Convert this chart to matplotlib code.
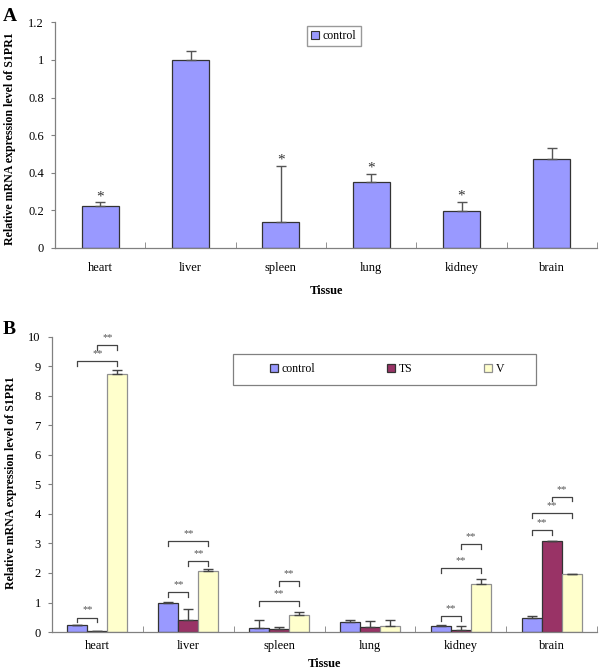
import numpy as np
import matplotlib
matplotlib.use("Agg")
import matplotlib.pyplot as plt
from matplotlib.ticker import FuncFormatter, FixedLocator
from matplotlib.patches import Patch, Rectangle

plt.rcParams['font.family'] = ['Liberation Serif', 'DejaVu Serif']

tissues = ['heart', 'liver', 'spleen', 'lung', 'kidney', 'brain']

# panel A
a_control = [0.224, 1.0, 0.14, 0.353, 0.195, 0.472]
a_err = [0.019, 0.048, 0.297, 0.041, 0.05, 0.059]
a_star = [True, False, True, True, True, False]

# panel B
b_control = [0.23, 1.0, 0.13, 0.33, 0.20, 0.46]
b_control_err = [0.01, 0.02, 0.29, 0.07, 0.03, 0.08]
b_ts = [0.03, 0.39, 0.09, 0.18, 0.06, 3.09]
b_ts_err = [0.0, 0.39, 0.07, 0.18, 0.15, 0.0]
b_v = [8.74, 2.08, 0.59, 0.19, 1.64, 1.96]
b_v_err = [0.13, 0.07, 0.08, 0.21, 0.17, 0.02]

# significance brackets: (tissue, bar i, bar j, height)
brackets = [
    (0, 0, 1, 0.49), (0, 0, 2, 9.18), (0, 1, 2, 9.72),
    (1, 0, 1, 1.34), (1, 1, 2, 2.41), (1, 0, 2, 3.07),
    (2, 0, 2, 1.05), (2, 1, 2, 1.72),
    (4, 0, 1, 0.53), (4, 0, 2, 2.17), (4, 1, 2, 2.97),
    (5, 0, 1, 3.45), (5, 0, 2, 4.02), (5, 1, 2, 4.59),
]

colors = ['#9999FF', '#993366', '#FFFFCC']
edges = ['#333333', '#333333', '#909090']
series = ['control', 'TS', 'V']
axis_grey = '#808080'
ylab = 'Relative mRNA expression level of S1PR1'

fig = plt.figure(figsize=(6.0, 6.69), dpi=100)
axA = fig.add_axes([0.0917, 0.6293, 0.9033, 0.3374])
axB = fig.add_axes([0.0867, 0.0553, 0.9083, 0.4410])


def style_axis(ax, n, xpad, lpad):
    for s in ['top', 'right']:
        ax.spines[s].set_visible(False)
    for s in ['left', 'bottom']:
        ax.spines[s].set_color(axis_grey)
        ax.spines[s].set_linewidth(0.9)
    ax.set_xlim(0, n)
    ax.set_xticks(np.arange(n) + 0.5)
    ax.set_xticklabels(tissues, fontsize=9)
    ax.tick_params(axis='x', which='major', length=0, pad=xpad)
    ax.xaxis.set_minor_locator(FixedLocator(np.arange(1, n + 1)))
    ax.tick_params(axis='x', which='minor', direction='in', length=4, color=axis_grey)
    ax.tick_params(axis='y', direction='out', length=3, color=axis_grey, labelsize=9, pad=5)
    ax.set_xlabel('Tissue', fontsize=9, fontweight='bold', labelpad=lpad)


x = np.arange(len(tissues)) + 0.5

# ---- panel A
bw = 0.41
axA.bar(x, a_control, bw, color=colors[0], edgecolor=edges[0], linewidth=0.9,
        yerr=[np.zeros(len(a_err)), a_err], capsize=3.5,
        error_kw=dict(ecolor='#555555', elinewidth=1.0, capthick=1.0), zorder=2)
for xi, v, e, s in zip(x, a_control, a_err, a_star):
    if s:
        axA.text(xi, v + e - 0.005, '*', ha='center', va='bottom', fontsize=11, color='#333333')
axA.set_ylim(0, 1.2)
axA.set_yticks(np.arange(0, 1.21, 0.2))
axA.yaxis.set_major_formatter(FuncFormatter(lambda v, p: '%g' % round(v, 1)))
style_axis(axA, len(tissues), 10, 8)
axA.legend(handles=[Patch(facecolor=colors[0], edgecolor=edges[0], linewidth=0.8, label='control')],
           loc='upper left', bbox_to_anchor=(0.465, 0.985), fontsize=8.5, frameon=True,
           fancybox=False, edgecolor=axis_grey, handlelength=0.7, handleheight=0.7,
           handletextpad=0.3, borderpad=0.35, borderaxespad=0)

# ---- panel B
bw = 0.22
vals = [b_control, b_ts, b_v]
errs = [b_control_err, b_ts_err, b_v_err]
for k in range(3):
    axB.bar(x + (k - 1) * bw, vals[k], bw, color=colors[k], edgecolor=edges[k], linewidth=0.9,
            yerr=[np.zeros(len(errs[k])), errs[k]], capsize=3.5,
            error_kw=dict(ecolor='#444444', elinewidth=1.0, capthick=1.0), zorder=2,
            label=series[k])

drop = 0.16
for t, i, j, h in brackets:
    x0 = x[t] + (i - 1) * bw
    x1 = x[t] + (j - 1) * bw
    axB.plot([x0, x0, x1, x1], [h - drop, h, h, h - drop], color='#444444', lw=0.9, zorder=3)
    axB.text((x0 + x1) / 2, h + 0.1, '**', ha='center', va='bottom', fontsize=7.5, color='#555555')

axB.set_ylim(0, 10)
axB.set_yticks(np.arange(0, 11, 1))
style_axis(axB, len(tissues), 6, 4)
axB.legend(loc='center', bbox_to_anchor=(0.4, 0.85, 0.43, 0.08), mode='expand',
           ncol=3, fontsize=8.5, frameon=False,
           handlelength=0.7, handleheight=0.7, handletextpad=0.3, borderaxespad=0,
           borderpad=0)
axB.add_patch(Rectangle((0.332, 0.837), 0.556, 0.105, transform=axB.transAxes,
                        fill=False, edgecolor=axis_grey, linewidth=0.9, clip_on=False))

fig.text(0.017, 0.792, ylab, rotation=90, fontsize=8.6, fontweight='bold', ha='center', va='center')
fig.text(0.019, 0.278, ylab, rotation=90, fontsize=8.6, fontweight='bold', ha='center', va='center')

fig.text(0.005, 0.988, 'A', fontsize=14, fontweight='bold', va='top', ha='left')
fig.text(0.005, 0.52, 'B', fontsize=14, fontweight='bold', va='top', ha='left')

fig.savefig('out.png', dpi=100)
